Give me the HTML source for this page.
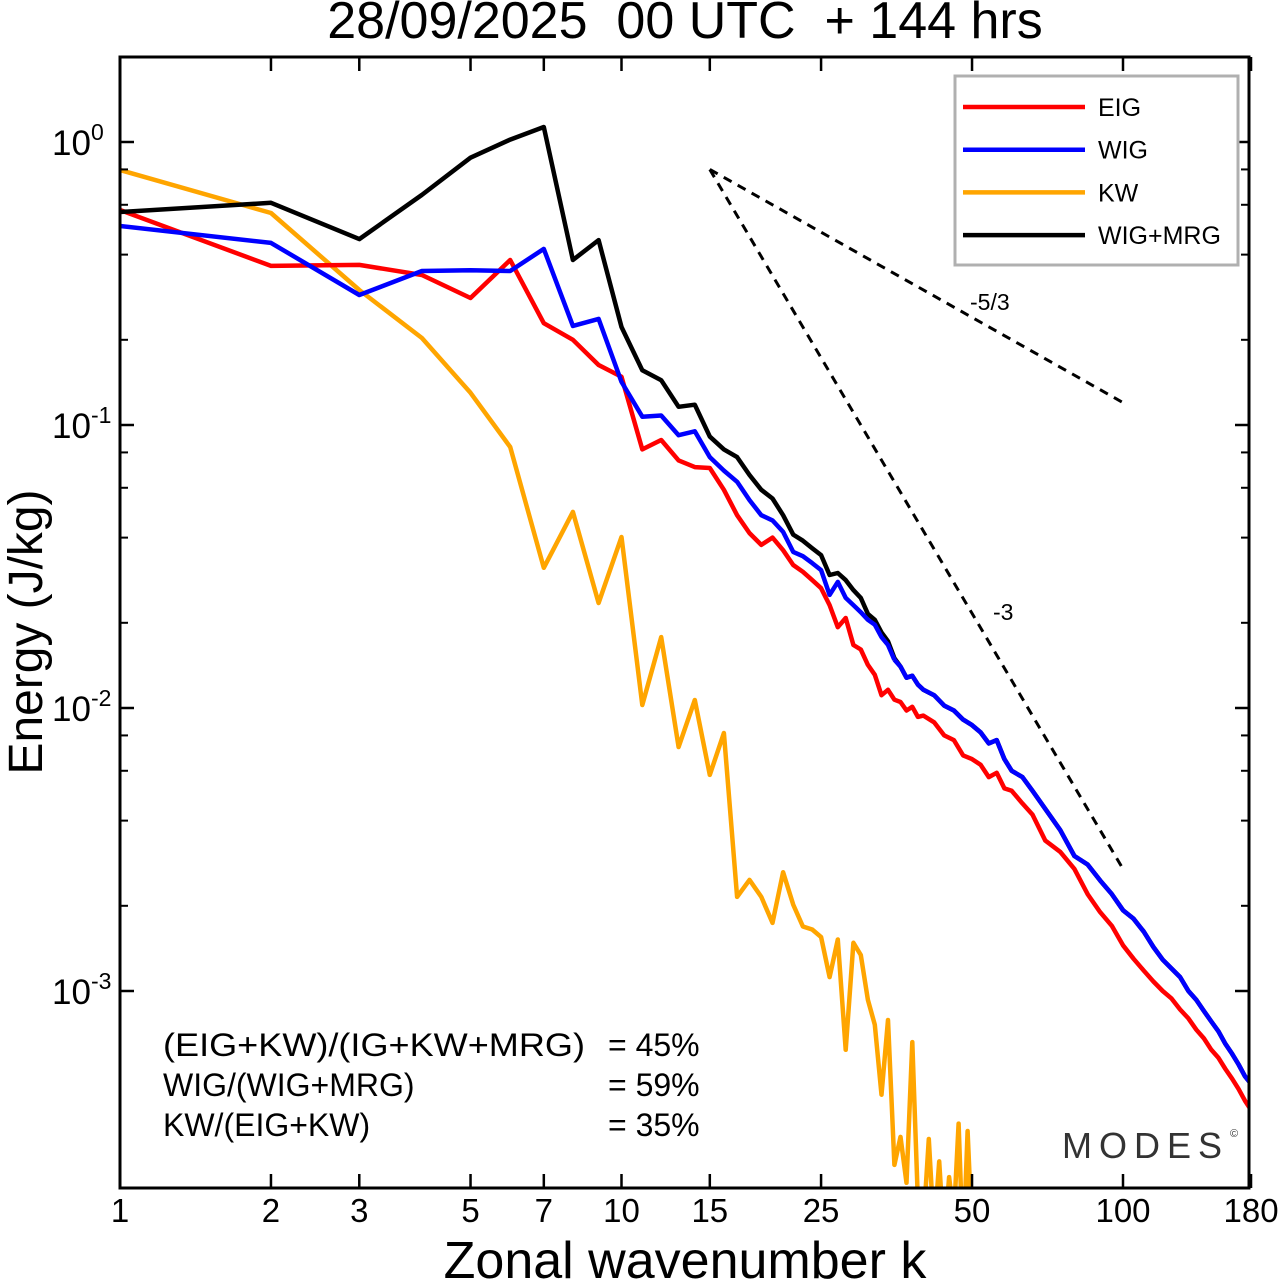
<!DOCTYPE html>
<html><head><meta charset="utf-8"><style>
html,body{margin:0;padding:0;background:#fff;}
svg{display:block;font-family:"Liberation Sans",sans-serif;}
</style></head><body>
<svg id="chart" width="1280" height="1281" viewBox="0 0 1280 1281">
<text x="685" y="38" text-anchor="middle" font-size="52" style="white-space:pre" xml:space="preserve">28/09/2025  00 UTC  + 144 hrs</text>
<g id="plot"></g>
<text x="685" y="1278" text-anchor="middle" font-size="52">Zonal wavenumber k</text>
<text transform="translate(42,632) rotate(-90)" text-anchor="middle" font-size="48" textLength="285" lengthAdjust="spacingAndGlyphs">Energy (J/kg)</text>
<g font-size="32">
<text x="163" y="1056" textLength="422" lengthAdjust="spacingAndGlyphs">(EIG+KW)/(IG+KW+MRG)</text><text x="608" y="1056">= 45%</text>
<text x="163" y="1096">WIG/(WIG+MRG)</text><text x="608" y="1096">= 59%</text>
<text x="163" y="1136">KW/(EIG+KW)</text><text x="608" y="1136">= 35%</text>
</g>
<text x="1062" y="1158" font-size="36" fill="#333" textLength="160" lengthAdjust="spacing">MODES</text>
<text x="1230" y="1137" font-size="11" fill="#333">©</text>
</svg>
<script>
const ks = [1,2,3,4,5,6,7,8,9,10,11,12,13,14,15,16,17,18,19,20,21,22,23,24,25,26,27,28,29,30,31,32,33,34,35,36,37,38,39,40,42,44,46,48,50,52,54,56,58,60,63,66,70,75,80,85,90,95,100,105,110,115,120,125,130,135,140,145,150,155,160,165,170,175,180];
const eig = [0.575,0.365,0.368,0.339,0.281,0.383,0.229,0.2,0.163,0.148,0.082,0.0885,0.075,0.071,0.0705,0.059,0.048,0.0415,0.0377,0.040,0.0361,0.032,0.0303,0.0283,0.0265,0.0231,0.0193,0.0208,0.0167,0.0161,0.0142,0.0131,0.0111,0.0116,0.0107,0.0105,0.0098,0.0101,0.0093,0.0094,0.0089,0.0080,0.0077,0.0068,0.0066,0.0063,0.0057,0.0059,0.0052,0.0051,0.0046,0.0042,0.0034,0.0031,0.0027,0.0022,0.0019,0.0017,0.00145,0.0013,0.00118,0.00108,0.001,0.00094,0.00086,0.0008,0.00073,0.00068,0.00062,0.00058,0.00053,0.00049,0.00045,0.00041,0.00038];
const wig = [0.505,0.44,0.288,0.35,0.352,0.35,0.419,0.224,0.237,0.142,0.107,0.108,0.092,0.095,0.077,0.069,0.063,0.0543,0.048,0.046,0.0419,0.0356,0.0344,0.0325,0.0307,0.0251,0.0279,0.0245,0.0231,0.0218,0.0205,0.0197,0.0178,0.0167,0.0148,0.0140,0.0128,0.0130,0.0121,0.0116,0.0111,0.0102,0.0098,0.0091,0.0087,0.0082,0.0075,0.0077,0.0066,0.0060,0.0057,0.0051,0.0044,0.0037,0.0030,0.0028,0.00246,0.0022,0.00193,0.0018,0.00162,0.00143,0.00129,0.0012,0.00112,0.001,0.00093,0.00085,0.00078,0.00072,0.00065,0.0006,0.00055,0.0005,0.00047];
const wigmrgHead = [0.566,0.61,0.454,0.65,0.88,1.02,1.13,0.383,0.45,0.222,0.156,0.144,0.116,0.118,0.091,0.082,0.077,0.0666,0.059,0.055,0.048,0.041,0.039,0.0367,0.0347,0.0295,0.030,0.0283,0.0261,0.0245,0.0215,0.0205,0.0185,0.0172,0.0150];
const kwK = [1,2,3,4,5,6,7,8,9,10,11,12,13,14,15,16,17,18,19,20,21,22,23,24,25,26,27,28,29,30,31,32,33,34,35,36,37,38,39,40,41,42,43,44,45,46,47,48,49,50,51,52];
const kw = [0.796,0.561,0.30,0.203,0.130,0.0836,0.0313,0.0493,0.0235,0.0402,0.01025,0.0178,0.00728,0.01067,0.0058,0.00816,0.00215,0.00247,0.00215,0.00174,0.00263,0.00202,0.00169,0.00165,0.00155,0.00112,0.00152,0.00062,0.00148,0.00134,0.00093,0.00076,0.00043,0.00079,0.000243,0.000305,0.00021,0.00066,0.00018,0.00015,0.0003,0.00014,0.00025,0.00013,0.00022,0.00016,0.00034,0.00012,0.00032,0.00014,0.0002,0.00019];
const refK0 = 15, refE0 = 0.8, refKEnd = 100;
const refSlopes = [-1.0, -3];
const refLabels = ["-5/3", "-3"];
const xTicks = [1,2,3,5,7,10,15,25,50,100,180];
const yDecades = [-3,-2,-1,0];
const legendNames = ["EIG","WIG","KW","WIG+MRG"];
const legendColors = ["#ff0000","#0000ff","#ffa500","#000000"];

const L=120,R=1249,T=57,B=1188;
const X = k => L + Math.log10(k)*501.5;
const Y = v => 142 - Math.log10(v)*283;
const NS="http://www.w3.org/2000/svg";
const plot=document.getElementById('plot');
function mk(tag,attrs,parent){const e=document.createElementNS(NS,tag);for(const a in attrs)e.setAttribute(a,attrs[a]);(parent||plot).appendChild(e);return e;}

const defs=mk('defs',{});
const cp=mk('clipPath',{id:'clip'},defs);
mk('rect',{x:L,y:T,width:R-L,height:B-T},cp);
const g=mk('g',{'clip-path':'url(#clip)'});



function line(xs,vs,color,name){
  const d=xs.map((k,i)=>(i?'L':'M')+X(k).toFixed(1)+','+Y(vs[i]).toFixed(1)).join('');
  const p=mk('path',{d:d,fill:'none',stroke:color,'stroke-width':4.5,'stroke-linejoin':'round'},g);
  
  
}
line(kwK,kw,'#ffa500','kw-line');
line(ks,eig,'#ff0000','eig-line');
const blackVals = ks.map((k,i)=> i<wigmrgHead.length ? wigmrgHead[i] : wig[i]);
line(ks,blackVals,'#000000','wig-mrg-line');
line(ks.slice(wigmrgHead.length-1),wig.slice(wigmrgHead.length-1),'#0000ff','wig-line-tail');
line(ks.slice(0,wigmrgHead.length),wig.slice(0,wigmrgHead.length),'#0000ff','wig-line');

refSlopes.forEach((s,i)=>{
  const e1=refE0*Math.pow(refKEnd/refK0,s);
  const l=mk('line',{x1:X(refK0),y1:Y(refE0),x2:X(refKEnd),y2:Y(e1),stroke:'#000','stroke-width':3,'stroke-dasharray':'9,7'});
  
  
});
const t1=mk('text',{x:970,y:310,'font-size':23});t1.textContent=refLabels[0];


const t2=mk('text',{x:993,y:620,'font-size':23});t2.textContent=refLabels[1];



const fr=mk('rect',{x:L,y:T,width:R-L,height:B-T,fill:'none',stroke:'#000','stroke-width':3});


xTicks.forEach(k=>{
  const x=X(k);
  mk('line',{x1:x,y1:B,x2:x,y2:B-14,stroke:'#000','stroke-width':2.5});
  mk('line',{x1:x,y1:T,x2:x,y2:T+14,stroke:'#000','stroke-width':2.5});
  const t=mk('text',{x:x,y:1222,'font-size':33,'text-anchor':'middle'});
  t.textContent=k;
  
  
});
yDecades.forEach(dd=>{
  const y=Y(Math.pow(10,dd));
  mk('line',{x1:L,y1:y,x2:L+14,y2:y,stroke:'#000','stroke-width':2.5});
  mk('line',{x1:R,y1:y,x2:R-14,y2:y,stroke:'#000','stroke-width':2.5});
  const t=mk('text',{x:52,y:y+13,'font-size':35});
  
  
  const a=document.createElementNS(NS,'tspan');a.textContent='10';t.appendChild(a);
  const b=document.createElementNS(NS,'tspan');b.textContent=String(dd);b.setAttribute('font-size','23');b.setAttribute('dy','-15');t.appendChild(b);
  [2,4,6,8].forEach(m=>{
    const v=m*Math.pow(10,dd);const yy=Y(v);
    if(yy>T&&yy<B){
      mk('line',{x1:L,y1:yy,x2:L+8,y2:yy,stroke:'#000','stroke-width':2});
      mk('line',{x1:R,y1:yy,x2:R-8,y2:yy,stroke:'#000','stroke-width':2});
    }
  });
});
const lg=mk('g',{});


mk('rect',{x:955,y:76,width:283,height:189,fill:'#fff',stroke:'#b0b0b0','stroke-width':3},lg);
legendNames.forEach((n,i)=>{
  const y=107+i*42.7;
  const e=mk('g',{},lg);
  
  
  mk('line',{x1:963,y1:y,x2:1085,y2:y,stroke:legendColors[i],'stroke-width':4.5},e);
  const t=mk('text',{x:1098,y:y+9,'font-size':25},e);t.textContent=n;
});
</script>
</body></html>
